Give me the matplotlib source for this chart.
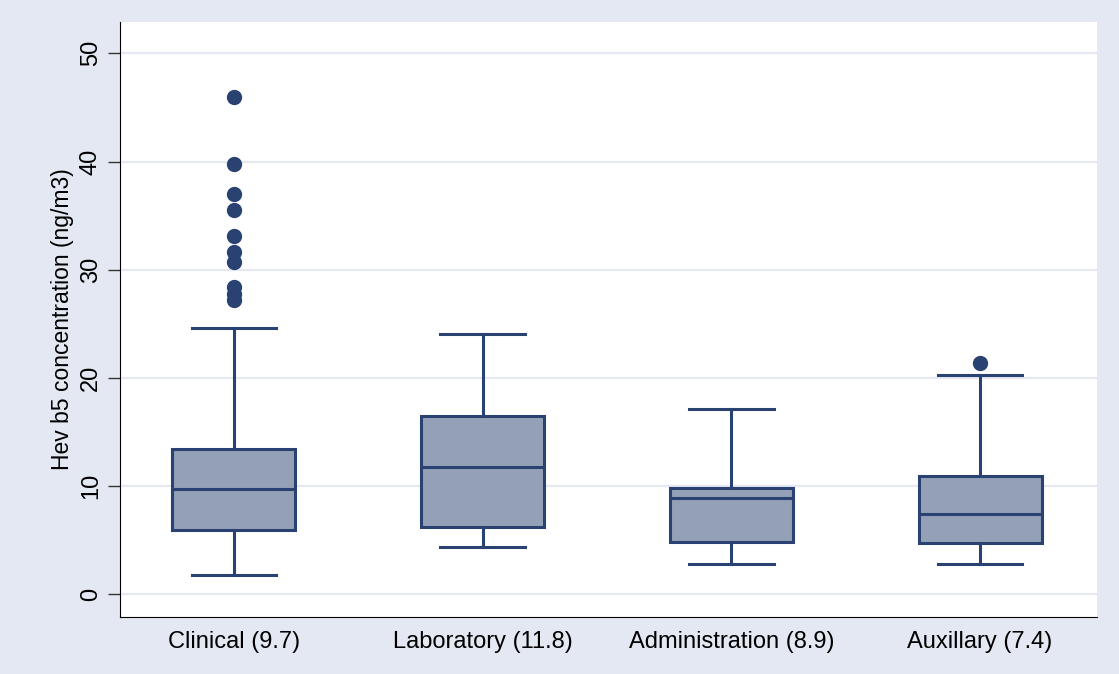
import matplotlib.pyplot as plt

plt.rcParams['font.family'] = ['Liberation Sans', 'DejaVu Sans']

groups = ['Clinical (9.7)', 'Laboratory (11.8)', 'Administration (8.9)', 'Auxillary (7.4)']
whisker_low = [1.8, 4.4, 2.8, 2.8]
q1 = [5.9, 6.2, 4.8, 4.7]
median = [9.7, 11.8, 8.9, 7.4]
q3 = [13.4, 16.5, 9.8, 10.9]
whisker_high = [24.6, 24.1, 17.1, 20.3]
outliers = [
    [46.0, 39.8, 37.0, 35.5, 33.1, 31.6, 30.7, 28.4, 27.8, 27.2],
    [],
    [],
    [21.4],
]

navy = '#2a4272'
fill = '#94a0b6'
bg = '#e4e8f2'

stats = []
for i, g in enumerate(groups):
    stats.append({
        'label': g, 'whislo': whisker_low[i], 'q1': q1[i], 'med': median[i],
        'q3': q3[i], 'whishi': whisker_high[i], 'fliers': outliers[i],
    })

fig = plt.figure(figsize=(11.19, 6.74), dpi=100, facecolor=bg)
ax = fig.add_axes([120 / 1119, 1 - 617 / 674, 977 / 1119, 595 / 674])
ax.set_facecolor('white')

ax.bxp(stats, positions=range(1, 5), widths=0.495, patch_artist=True,
       boxprops=dict(facecolor=fill, edgecolor=navy, linewidth=2.2),
       medianprops=dict(color=navy, linewidth=2.2),
       whiskerprops=dict(color=navy, linewidth=2.2),
       capprops=dict(color=navy, linewidth=2.2),
       capwidths=0.34,
       flierprops=dict(marker='o', markerfacecolor=navy, markeredgecolor=navy,
                       markersize=10, linestyle='none'))

ax.set_xlim(0.542, 4.47)
ax.set_ylim(-2.1, 52.9)
ax.set_yticks(range(0, 51, 10))
ax.yaxis.grid(True, color=bg, linewidth=1.6)
ax.set_axisbelow(True)
for lbl in ax.get_yticklabels():
    lbl.set_rotation(90)
    lbl.set_va('center')
ax.tick_params(axis='y', labelsize=17, length=9, width=1, color='#333333', pad=4)
ax.tick_params(axis='x', labelsize=17, length=0, pad=10)
ax.set_ylabel('Hev b5 concentration (ng/m3)', fontsize=16.5, labelpad=4)
ax.spines['top'].set_visible(False)
ax.spines['right'].set_visible(False)

fig.savefig('out.png', dpi=100, facecolor=bg)
